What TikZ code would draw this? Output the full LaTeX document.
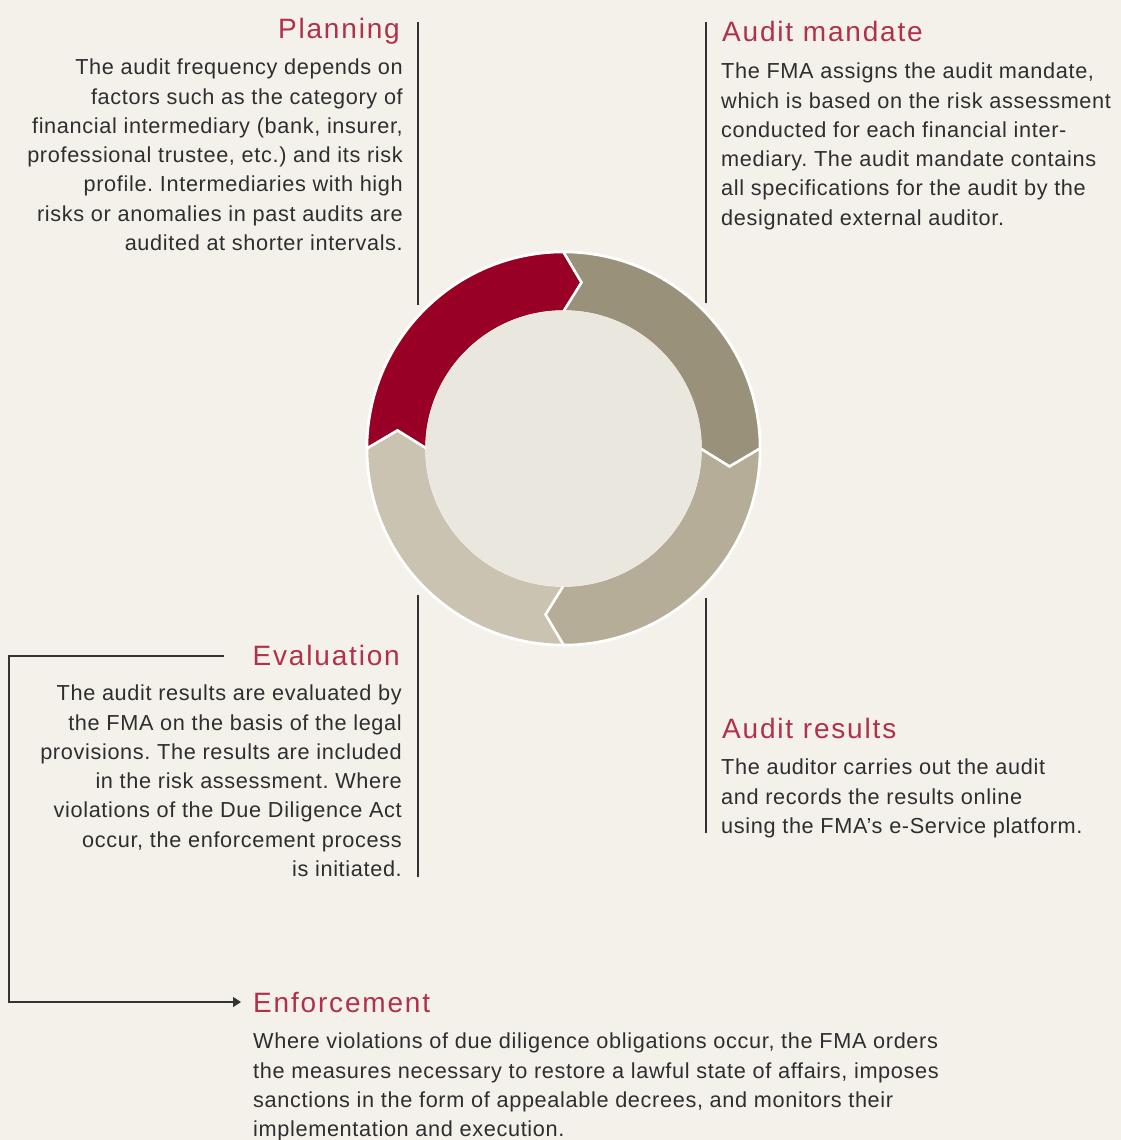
\documentclass[tikz,border=0pt]{standalone}
\usepackage{fontspec}
\usetikzlibrary{arrows.meta}
\newfontfamily\tfam[LetterSpace=6.5]{Liberation Sans}
\newfontfamily\bfam[LetterSpace=3]{Liberation Sans}
\newcommand\mytitlefont{\tfam\fontsize{28}{34}\selectfont}
\newcommand\mybodyfont{\bfam\fontsize{21.7}{29.3}\selectfont\frenchspacing}
\definecolor{bg}{HTML}{F3F1EA}
\definecolor{segred}{HTML}{990026}
\definecolor{segA}{HTML}{9A917A}
\definecolor{segB}{HTML}{B5AD97}
\definecolor{segC}{HTML}{CAC3B1}
\definecolor{innerc}{HTML}{EAE7DF}
\definecolor{titlered}{HTML}{B1304A}
\definecolor{textdark}{HTML}{2E2E2E}
\definecolor{linec}{HTML}{333333}
\tikzset{
  ttl/.style={font=\mytitlefont, text=titlered, inner sep=0pt},
  bodyr/.style={font=\mybodyfont, text=textdark, inner sep=0pt, align=right, anchor=north east},
  bodyl/.style={font=\mybodyfont, text=textdark, inner sep=0pt, align=left, anchor=north west},
  vline/.style={draw=linec, line width=1.1pt},
  seg/.style={draw=white, line width=2.5pt, line join=miter},
}
\begin{document}
\begin{tikzpicture}[x=1pt,y=-1pt]
\fill[bg] (0,0) rectangle (1121,1140);
\useasboundingbox (0,0) rectangle (1121,1140);

% ring
\begin{scope}[shift={(563.5,448.5)}]
  \fill[white] (0,0) circle[radius=198pt];
  \filldraw[seg, fill=segred] (180:196.5pt) arc[start angle=180, end angle=90, radius=196.5pt]
     -- (83.8:167pt) -- (90:137pt) arc[start angle=90, end angle=180, radius=137pt] -- (173.8:167pt) -- cycle;
  \filldraw[seg, fill=segA] (90:196.5pt) arc[start angle=90, end angle=0, radius=196.5pt]
     -- (-6.2:167pt) -- (0:137pt) arc[start angle=0, end angle=90, radius=137pt] -- (83.8:167pt) -- cycle;
  \filldraw[seg, fill=segB] (0:196.5pt) arc[start angle=0, end angle=-90, radius=196.5pt]
     -- (-96.2:167pt) -- (-90:137pt) arc[start angle=-90, end angle=0, radius=137pt] -- (-6.2:167pt) -- cycle;
  \filldraw[seg, fill=segC] (-90:196.5pt) arc[start angle=-90, end angle=-180, radius=196.5pt]
     -- (-186.2:167pt) -- (-180:137pt) arc[start angle=-180, end angle=-90, radius=137pt] -- (-96.2:167pt) -- cycle;
  \fill[innerc] (0,0) circle[radius=138pt];
\end{scope}

% vertical rules
\coordinate (pl1) at (418,22);  \coordinate (pl2) at (418,305);
\coordinate (am1) at (706,22);  \coordinate (am2) at (706,303);
\coordinate (ev1) at (418,595); \coordinate (ev2) at (418,877);
\coordinate (ar1) at (706,598); \coordinate (ar2) at (706,833);
\draw[vline] (pl1) -- (pl2);
\draw[vline] (am1) -- (am2);
\draw[vline] (ev1) -- (ev2);
\draw[vline] (ar1) -- (ar2);

% Planning
\node[ttl, anchor=base east] (planT) at (400,38) {Planning};
\node[bodyr] (planB) at (403,54) {\strut The audit frequency depends on\\
factors such as the category of\\
financial intermediary (bank, insurer,\\
professional trustee, etc.) and its risk\\
profile. Intermediaries with high\\
risks or anomalies in past audits are\\
audited at shorter intervals.};

% Audit mandate
\node[ttl, anchor=base west] (amT) at (722,42) {Audit mandate};
\node[bodyl] (amB) at (721,58) {\strut The FMA assigns the audit mandate,\\
which is based on the risk assessment\\
conducted for each financial inter-\\
mediary. The audit mandate contains\\
all specifications for the audit by the\\
designated external auditor.};

% Evaluation
\node[ttl, anchor=base east] (evT) at (400,665) {Evaluation};
\node[bodyr] (evB) at (402,680) {\strut The audit results are evaluated by\\
the FMA on the basis of the legal\\
provisions. The results are included\\
in the risk assessment. Where\\
violations of the Due Diligence Act\\
occur, the enforcement process\\
is initiated.};

% Audit results
\node[ttl, anchor=base west] (arT) at (722,738) {Audit results};
\node[bodyl] (arB) at (721,754) {\strut The auditor carries out the audit\\
and records the results online\\
using the FMA’s e-Service platform.};

% Enforcement
\node[ttl, anchor=base west] (enT) at (253,1012) {Enforcement};
\node[bodyl] (enB) at (253,1028) {\strut Where violations of due diligence obligations occur, the FMA orders\\
the measures necessary to restore a lawful state of affairs, imposes\\
sanctions in the form of appealable decrees, and monitors their\\
implementation and execution.};

% connector
\coordinate (evline) at (224,656);
\draw[draw=linec, line width=1.1pt, -{Triangle[length=8pt,width=10pt]}]
  (evline) -- (9,656) |- ([xshift=-12pt]enT.west);
\end{tikzpicture}
\end{document}
